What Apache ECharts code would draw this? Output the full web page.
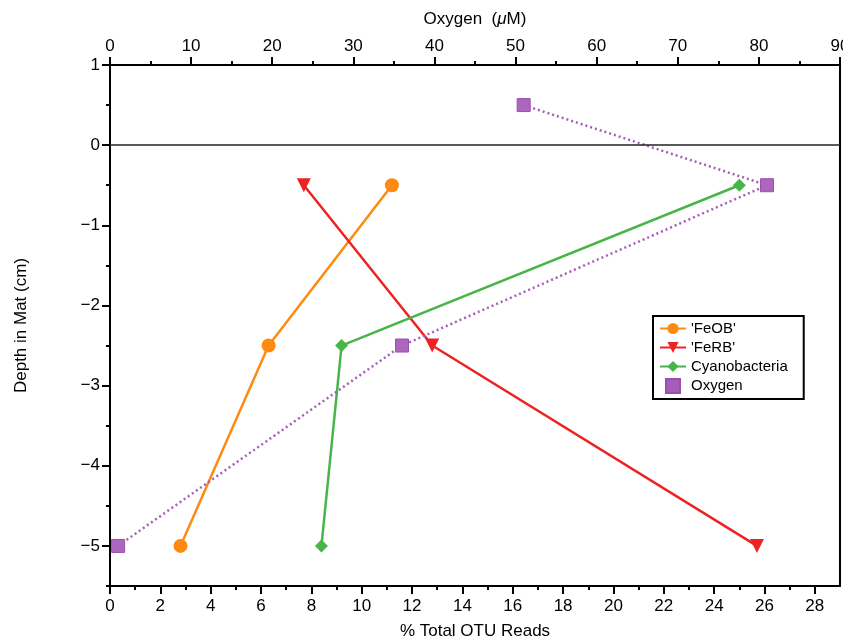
<!DOCTYPE html>
<html>
<head>
<meta charset="utf-8">
<script src="https://cdn.jsdelivr.net/npm/echarts@6/dist/echarts.min.js"></script>
<style>
    html, body { margin: 0; padding: 0; background: #fff; }
    #chart { width: 843px; height: 641px; }
</style>
</head>
<body>
<div id="chart"></div>
<script>
    // depth (cm) for each sample
    var depths = [-0.5, -2.5, -5];
    var oxyDepths = [0.5, -0.5, -2.5, -5];
    // % total OTU reads
    var feob = [11.2, 6.3, 2.8];
    var ferb = [7.7, 12.8, 25.7];
    var cyano = [25.0, 9.2, 8.4];
    // oxygen (uM)
    var oxygen = [51, 81, 36, 1];

    var yMajor = [-5, -4, -3, -2, -1, 0, 1];
    var yMinor = [-5.5, -4.5, -3.5, -2.5, -1.5, -0.5, 0.5];
    var xMajor = [0, 2, 4, 6, 8, 10, 12, 14, 16, 18, 20, 22, 24, 26, 28];
    var xMinor = [1, 3, 5, 7, 9, 11, 13, 15, 17, 19, 21, 23, 25, 27];

    function pairs(xs, ys) {
        return xs.map(function (v, i) { return [v, ys[i]]; });
    }

    var font = 'Liberation Sans';
    var tickStyle = { color: '#000', width: 2 };
    var chart = echarts.init(document.getElementById('chart'));

    var option = {
        animation: false,
        textStyle: { fontFamily: font },
        grid: {
            left: 110, right: 3, top: 65, bottom: 55,
            outerBoundsMode: 'none',
            show: true, borderColor: '#000', borderWidth: 2
        },
        legend: {
            orient: 'vertical',
            left: 653, top: 316,
            padding: [5, 16, 5, 6],
            itemGap: 4,
            itemWidth: 26, itemHeight: 14,
            borderColor: '#000', borderWidth: 2,
            textStyle: { fontFamily: font, fontSize: 15, color: '#000' },
            data: ["'FeOB'", "'FeRB'", 'Cyanobacteria',
                { name: 'Oxygen', icon: 'path://M0,0H10V10H0Z', itemStyle: { color: '#a65cb8' } }]
        },
        xAxis: [{
            type: 'value', position: 'bottom',
            min: 0, max: 29,
            axisLine: { onZero: false, lineStyle: { color: '#000', width: 2 } },
            axisTick: { customValues: xMajor, length: 8, lineStyle: tickStyle },
            axisLabel: { customValues: xMajor, color: '#000', fontSize: 17, margin: 12 },
            splitLine: { show: false },
            name: '% Total OTU Reads', nameLocation: 'middle', nameGap: 37,
            nameTextStyle: { color: '#000', fontSize: 17 }
        }, {
            type: 'value', position: 'bottom',
            min: 0, max: 29,
            axisLine: { show: false, onZero: false },
            axisTick: { customValues: xMinor, length: 4, lineStyle: tickStyle },
            axisLabel: { show: false },
            splitLine: { show: false }
        }, {
            type: 'value', position: 'top',
            min: 0, max: 90, interval: 10,
            axisLine: { onZero: false, lineStyle: { color: '#000', width: 2 } },
            axisTick: { length: 8, lineStyle: tickStyle },
            minorTick: { show: true, splitNumber: 2, length: 4, lineStyle: tickStyle },
            axisLabel: { color: '#000', fontSize: 17, margin: 10 },
            splitLine: { show: false },
            name: 'Oxygen  ({i|μ}M)', nameLocation: 'middle', nameGap: 37,
            nameTextStyle: { color: '#000', fontSize: 17, rich: { i: { fontStyle: 'italic', fontSize: 17, color: '#000' } } }
        }],
        yAxis: [{
            type: 'value', position: 'left',
            min: -5.5, max: 1,
            axisLine: { onZero: false, lineStyle: { color: '#000', width: 2 } },
            axisTick: { customValues: yMajor, length: 8, lineStyle: tickStyle },
            axisLabel: {
                customValues: yMajor, color: '#000', fontSize: 17, margin: 10,
                formatter: function (v) { return v < 0 ? '\u2212' + Math.abs(v) : String(v); }
            },
            splitLine: { show: false },
            name: 'Depth in Mat (cm)', nameLocation: 'middle', nameGap: 80,
            nameTextStyle: { color: '#000', fontSize: 17 }
        }, {
            type: 'value', position: 'left',
            min: -5.5, max: 1,
            axisLine: { show: false, onZero: false },
            axisTick: { customValues: yMinor, length: 4, lineStyle: tickStyle },
            axisLabel: { show: false },
            splitLine: { show: false }
        }],
        series: [{
            name: "'FeOB'", type: 'line',
            xAxisIndex: 0, yAxisIndex: 0,
            data: pairs(feob, depths),
            symbol: 'circle', symbolSize: 14,
            itemStyle: { color: '#ff8a12' },
            lineStyle: { width: 2.5, color: '#ff8a12' },
            markLine: {
                silent: true, symbol: 'none', label: { show: false },
                lineStyle: { color: '#222', width: 1.5, type: 'solid' },
                data: [{ yAxis: 0 }]
            }
        }, {
            name: "'FeRB'", type: 'line',
            xAxisIndex: 0, yAxisIndex: 0,
            data: pairs(ferb, depths),
            symbol: 'triangle', symbolRotate: 180, symbolSize: 14,
            itemStyle: { color: '#ec2322' },
            lineStyle: { width: 2.5, color: '#ec2322' }
        }, {
            name: 'Cyanobacteria', type: 'line',
            xAxisIndex: 0, yAxisIndex: 0,
            data: pairs(cyano, depths),
            symbol: 'diamond', symbolSize: 13,
            itemStyle: { color: '#47b548' },
            lineStyle: { width: 2.5, color: '#47b548' }
        }, {
            name: 'Oxygen', type: 'line',
            xAxisIndex: 2, yAxisIndex: 0,
            data: pairs(oxygen, oxyDepths),
            symbol: 'rect', symbolSize: 13,
            itemStyle: { color: '#ac66bd', borderColor: '#9a50ad', borderWidth: 1 },
            lineStyle: { width: 2.5, color: '#a65cb8', type: [2, 3] }
        }]
    };

    chart.setOption(option);
</script>
</body>
</html>
